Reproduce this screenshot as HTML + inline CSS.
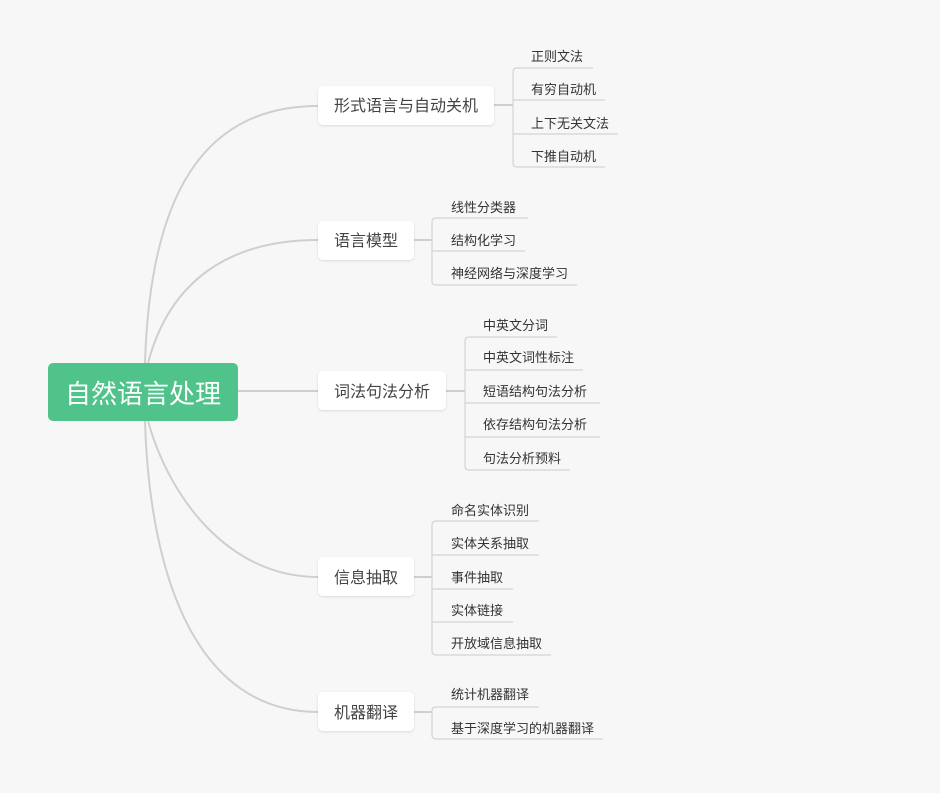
<!DOCTYPE html>
<html><head><meta charset="utf-8">
<style>
html,body{margin:0;padding:0;background:#f7f7f7;}
svg{display:block;}
text{font-family:"Liberation Sans","Noto Sans CJK SC",sans-serif;}
.l{font-size:13px;fill:#333;}
.m{font-size:16px;fill:#444;}
</style></head>
<body>
<svg width="940" height="793" viewBox="0 0 940 793" xmlns="http://www.w3.org/2000/svg">
<defs>
<filter id="sh" x="-10%" y="-20%" width="120%" height="150%"><feDropShadow dx="0" dy="1" stdDeviation="1.2" flood-color="#000" flood-opacity="0.12"/></filter>
</defs>
<g fill="none" stroke="#cfcfcf" stroke-width="2">
<path d="M145 363 C150 200 200 106 318 106"/>
<path d="M148 363 C170 280 230 240 318 240"/>
<path d="M238 391 L318 391"/>
<path d="M148 421 C170 500 230 577 318 577"/>
<path d="M145 421 C150 584 200 712 318 712"/>
<path d="M494 105 L513 105"/>
<path d="M414 240 L432 240"/>
<path d="M446 391 L465 391"/>
<path d="M414 577 L432 577"/>
<path d="M414 712 L432 712"/>
</g>
<g fill="none" stroke="#d4d4d4" stroke-width="1.2">
<!-- group1 -->
<path d="M593 68 L517 68 Q513 68 513 72 L513 163 Q513 167 517 167 L605 167"/>
<path d="M513 100 L605 100 M513 134 L618 134"/>
<!-- group2 -->
<path d="M528 218 L436 218 Q432 218 432 222 L432 281 Q432 285 436 285 L577 285"/>
<path d="M432 251 L525 251"/>
<!-- group3 -->
<path d="M557 337 L469 337 Q465 337 465 341 L465 466 Q465 470 469 470 L570 470"/>
<path d="M465 370 L583 370 M465 403 L600 403 M465 437 L600 437"/>
<!-- group4 -->
<path d="M539 521 L436 521 Q432 521 432 525 L432 651 Q432 655 436 655 L551 655"/>
<path d="M432 555 L539 555 M432 589 L513 589 M432 622 L513 622"/>
<!-- group5 -->
<path d="M539 707 L436 707 Q432 707 432 711 L432 735 Q432 739 436 739 L603 739"/>
</g>
<rect x="48" y="363" width="190" height="58" rx="5" fill="#50c38b"/>
<text x="143" y="403" text-anchor="middle" font-size="26" fill="#fff">自然语言处理</text>
<g filter="url(#sh)" fill="#fff">
<rect x="318" y="86" width="176" height="39" rx="5"/>
<rect x="318" y="221" width="96" height="39" rx="5"/>
<rect x="318" y="371" width="128" height="39" rx="5"/>
<rect x="318" y="557" width="96" height="39" rx="5"/>
<rect x="318" y="692" width="96" height="39" rx="5"/>
</g>
<g class="m" text-anchor="middle">
<text class="m" x="406" y="111">形式语言与自动关机</text>
<text class="m" x="366" y="246">语言模型</text>
<text class="m" x="382" y="397">词法句法分析</text>
<text class="m" x="366" y="583">信息抽取</text>
<text class="m" x="366" y="718">机器翻译</text>
</g>
<g>
<text class="l" x="531" y="61">正则文法</text>
<text class="l" x="531" y="94">有穷自动机</text>
<text class="l" x="531" y="128">上下无关文法</text>
<text class="l" x="531" y="161">下推自动机</text>
<text class="l" x="451" y="212">线性分类器</text>
<text class="l" x="451" y="245">结构化学习</text>
<text class="l" x="451" y="278">神经网络与深度学习</text>
<text class="l" x="483" y="330">中英文分词</text>
<text class="l" x="483" y="362">中英文词性标注</text>
<text class="l" x="483" y="396">短语结构句法分析</text>
<text class="l" x="483" y="429">依存结构句法分析</text>
<text class="l" x="483" y="463">句法分析预料</text>
<text class="l" x="451" y="515">命名实体识别</text>
<text class="l" x="451" y="548">实体关系抽取</text>
<text class="l" x="451" y="582">事件抽取</text>
<text class="l" x="451" y="615">实体链接</text>
<text class="l" x="451" y="648">开放域信息抽取</text>
<text class="l" x="451" y="699">统计机器翻译</text>
<text class="l" x="451" y="733">基于深度学习的机器翻译</text>
</g>
</svg>
</body></html>
